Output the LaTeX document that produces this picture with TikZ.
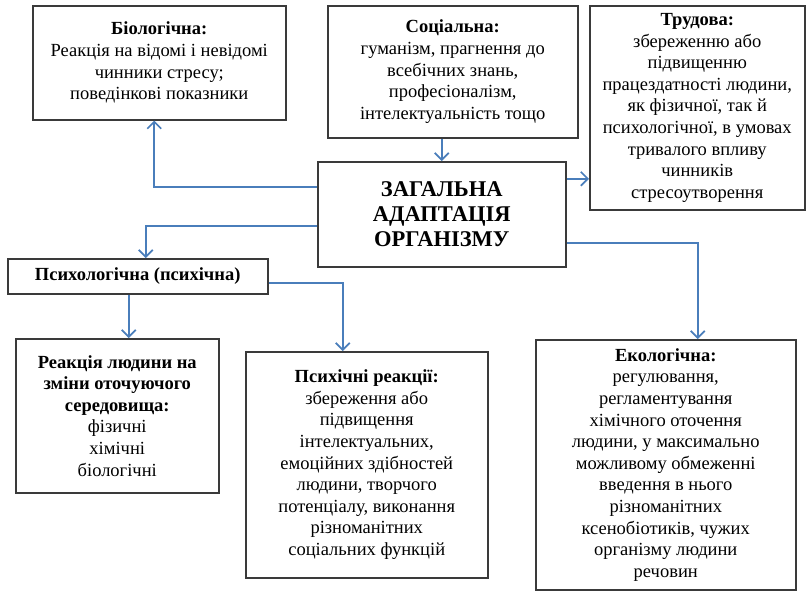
\documentclass[tikz,border=0pt]{standalone}
\usepackage{fontspec}
\setmainfont{Liberation Serif}
\usetikzlibrary{arrows.meta}
\definecolor{linkblue}{HTML}{4A7EBB}
\definecolor{framegrey}{HTML}{3A3A3A}

\begin{document}
\begin{tikzpicture}[
  x=1pt, y=-1pt,
  block/.style={rectangle, draw=framegrey, fill=white, line width=1.5pt,
    align=center, inner sep=2pt, anchor=north west,
    font=\fontsize{18.5}{21.6}\selectfont},
  hub/.style={block, font=\fontsize{22.5}{25}\selectfont\bfseries},
  link/.style={-{Straight Barb[length=7pt,width=14pt]}, line width=1.7pt, draw=linkblue},
]
\useasboundingbox (0,0) rectangle (807,590);

% === Top row ===
\node[block, minimum width=253pt, minimum height=114pt] (bio) at (32,5)
  {\textbf{Біологічна:}\\Реакція на відомі і невідомі\\чинники стресу;\\поведінкові показники};
\node[block, minimum width=250pt, minimum height=132pt] (social) at (327,5)
  {\textbf{Соціальна:}\\гуманізм, прагнення до\\всебічних знань,\\професіоналізм,\\інтелектуальність тощо};
\node[block, minimum width=215pt, minimum height=204pt] (labour) at (589,5)
  {\textbf{Трудова:}\\збереженню або\\підвищенню\\працездатності людини,\\як фізичної, так й\\психологічної, в умовах\\тривалого впливу\\чинників\\стресоутворення};

% === Centre ===
\node[hub, minimum width=248pt, minimum height=105pt] (general) at (317,161)
  {ЗАГАЛЬНА\\АДАПТАЦІЯ\\ОРГАНІЗМУ};

% === Psychological branch ===
\node[block, minimum width=260pt, minimum height=35pt] (psych) at (7,258)
  {\textbf{Психологічна (психічна)}};
\node[block, minimum width=203pt, minimum height=154pt] (response) at (15,338)
  {\textbf{Реакція людини на}\\\textbf{зміни оточуючого}\\\textbf{середовища:}\\фізичні\\хімічні\\біологічні};
\node[block, minimum width=242pt, minimum height=226pt] (mental) at (245,351)
  {\textbf{Психічні реакції:}\\збереження або\\підвищення\\інтелектуальних,\\емоційних здібностей\\людини, творчого\\потенціалу, виконання\\різноманітних\\соціальних функцій};

% === Ecological ===
\node[block, minimum width=260pt, minimum height=250pt] (eco) at (535,339)
  {\textbf{Екологічна:}\\регулювання,\\регламентування\\хімічного оточення\\людини, у максимально\\можливому обмеженні\\введення в нього\\різноманітних\\ксенобіотиків, чужих\\організму людини\\речовин};

% === Connectors ===
\draw[link] ([yshift=27.5pt]general.west) -| ([xshift=-5pt]bio.south);
\draw[link] (general.north |- social.south) -- (general.north);
\draw[link] ([yshift=35.5pt]general.east) -- ([yshift=35.5pt]general.east -| labour.west);
\draw[link] ([yshift=-11.5pt]general.west) -| ([xshift=8pt]psych.north);
\draw[link] ([yshift=-28.5pt]general.east) -| ([xshift=32pt]eco.north);
\draw[link] ([xshift=-9pt]psych.south) -- ([xshift=-9pt]psych.south |- response.north);
\draw[link] ([yshift=-6.5pt]psych.east) -| ([xshift=-24pt]mental.north);
\end{tikzpicture}
\end{document}
